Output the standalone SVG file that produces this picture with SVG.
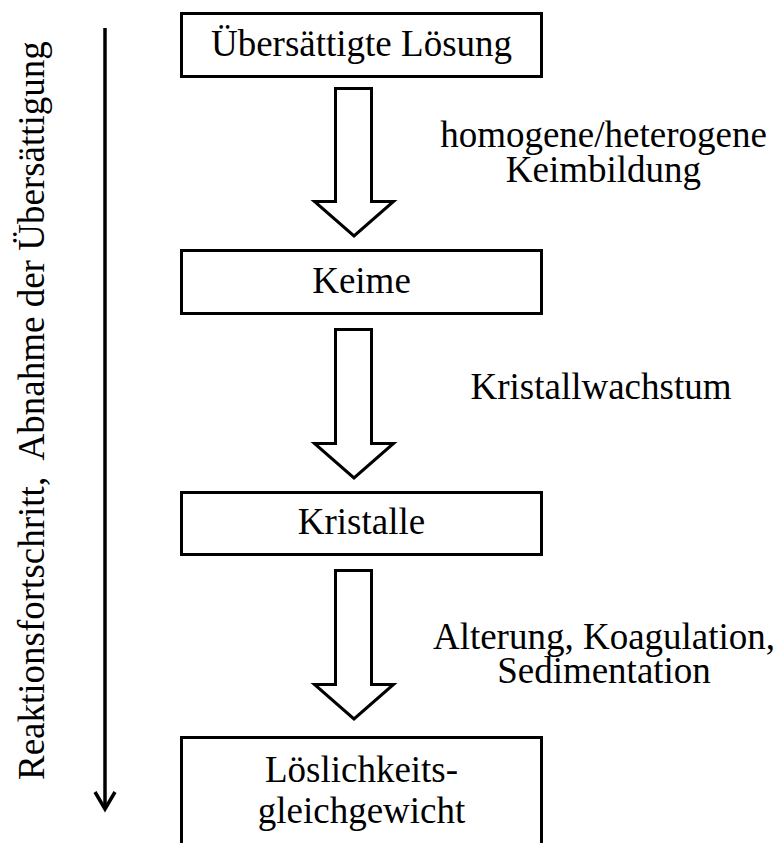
<svg xmlns="http://www.w3.org/2000/svg" width="779" height="843" viewBox="0 0 779 843">
  <style>
    .box { fill: #ffffff; stroke: #000000; stroke-width: 3; }
    .flow { fill: #ffffff; stroke: #000000; stroke-width: 3; stroke-linejoin: miter; }
    .axis { fill: none; stroke: #000000; stroke-width: 3.5; }
    text { font-family: 'Liberation Serif', 'Times New Roman', Times, serif; font-size: 37px; fill: #000000; }
    .c { text-anchor: middle; }
  </style>
  <rect width="779" height="843" fill="#ffffff"/>

  <!-- progress axis on the left -->
  <g id="axis">
    <line class="axis" x1="105" y1="28" x2="105" y2="808"/>
    <polyline class="axis" points="95,792 105,809 115,792"/>
    <text transform="translate(43.5,780) rotate(-90)">Reaktionsfortschritt,&#160; Abnahme der Übersättigung</text>
  </g>

  <!-- process stages -->
  <g id="node-loesung">
    <rect class="box" x="181.5" y="13.5" width="360" height="63"/>
    <text class="c" x="361.5" y="56">Übersättigte Lösung</text>
  </g>
  <g id="node-keime">
    <rect class="box" x="181.5" y="250.5" width="360" height="63"/>
    <text class="c" x="361.5" y="293">Keime</text>
  </g>
  <g id="node-kristalle">
    <rect class="box" x="181.5" y="492.5" width="360" height="62"/>
    <text class="c" x="361.5" y="534">Kristalle</text>
  </g>
  <g id="node-gleichgewicht">
    <rect class="box" x="181.5" y="737.5" width="360" height="130"/>
    <text class="c" x="361.5" y="782">Löslichkeits-</text>
    <text class="c" x="361.5" y="823">gleichgewicht</text>
  </g>

  <!-- block arrows between stages -->
  <g id="connectors">
    <path class="flow" d="M335.5,88.5 H371.5 V201.5 H393.5 L354,236 L314.5,201.5 H335.5 Z"/>
    <path class="flow" d="M335.5,329.5 H371.5 V443.5 H393.5 L354,478 L314.5,443.5 H335.5 Z"/>
    <path class="flow" d="M335.5,570.5 H371.5 V684.5 H393.5 L354,719 L314.5,684.5 H335.5 Z"/>
  </g>

  <!-- step labels -->
  <g id="label-keimbildung">
    <text class="c" x="603.5" y="147">homogene/heterogene</text>
    <text class="c" x="603.5" y="182">Keimbildung</text>
  </g>
  <g id="label-wachstum">
    <text class="c" x="601" y="399">Kristallwachstum</text>
  </g>
  <g id="label-alterung">
    <text class="c" x="604" y="649">Alterung, Koagulation,</text>
    <text class="c" x="604" y="683">Sedimentation</text>
  </g>
</svg>
